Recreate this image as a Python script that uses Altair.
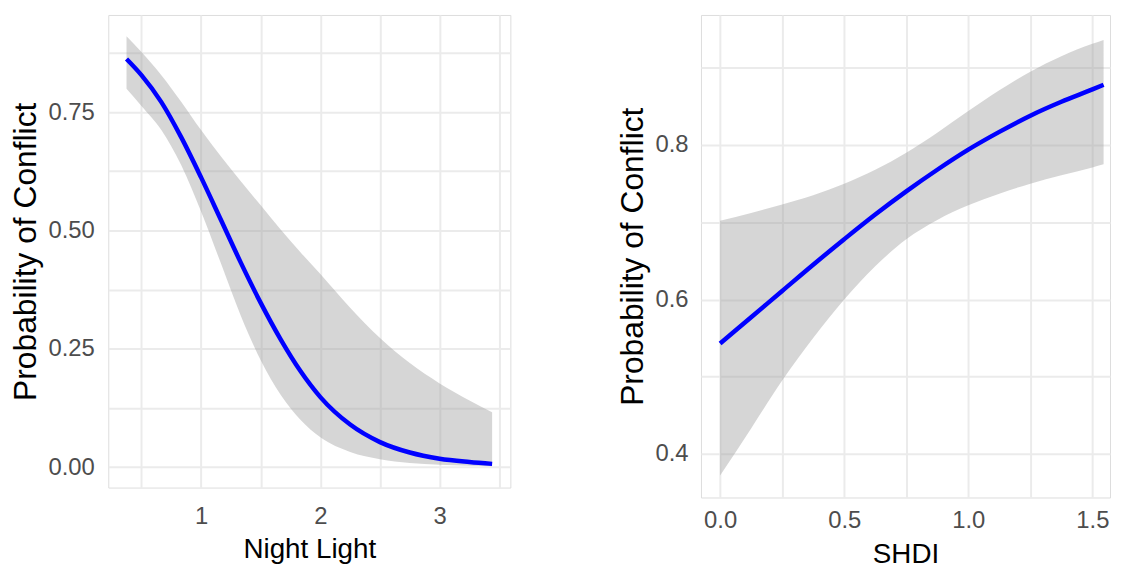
import altair as alt
import pandas as pd

# ---- Left panel: Night Light ----
night_light_x = [0.375, 0.5, 0.667, 0.833, 1.0, 1.167, 1.333, 1.5, 1.667, 1.833,
                 2.0, 2.25, 2.5, 2.75, 3.0, 3.25, 3.44]
night_light_fit = [0.862, 0.828, 0.771, 0.697, 0.612, 0.522, 0.432, 0.347, 0.270, 0.203,
                   0.148, 0.090, 0.053, 0.031, 0.018, 0.011, 0.007]
night_light_upper = [0.910, 0.877, 0.828, 0.772, 0.712, 0.656, 0.604, 0.553, 0.502, 0.454,
                     0.408, 0.337, 0.273, 0.220, 0.177, 0.141, 0.116]
night_light_lower = [0.799, 0.763, 0.712, 0.638, 0.540, 0.430, 0.320, 0.226, 0.153, 0.100,
                     0.063, 0.032, 0.017, 0.009, 0.005, 0.003, 0.002]

# ---- Right panel: SHDI ----
shdi_x = [0.0, 0.125, 0.25, 0.375, 0.5, 0.625, 0.75, 0.875, 1.0, 1.125, 1.25, 1.375, 1.5, 1.545]
shdi_fit = [0.543, 0.577, 0.611, 0.645, 0.678, 0.710, 0.740, 0.768, 0.794, 0.817, 0.838, 0.856,
            0.872, 0.878]
shdi_upper = [0.702, 0.712, 0.723, 0.735, 0.750, 0.768, 0.790, 0.816, 0.844, 0.871, 0.895, 0.915,
              0.931, 0.936]
shdi_lower = [0.372, 0.433, 0.495, 0.550, 0.600, 0.643, 0.678, 0.703, 0.722, 0.737, 0.750, 0.761,
              0.771, 0.775]

# grid / tick values (major + minor)
nl_x_grid = [0.5, 1, 1.5, 2, 2.5, 3, 3.5]
nl_y_grid = [0, 0.125, 0.25, 0.375, 0.5, 0.625, 0.75, 0.875]
shdi_x_grid = [0, 0.25, 0.5, 0.75, 1.0, 1.25, 1.5]
shdi_y_grid = [0.4, 0.5, 0.6, 0.7, 0.8, 0.9]

Y_TITLE = "Probability of Conflict"

nl_df = pd.DataFrame({"x": night_light_x, "fit": night_light_fit,
                      "lower": night_light_lower, "upper": night_light_upper})
shdi_df = pd.DataFrame({"x": shdi_x, "fit": shdi_fit,
                        "lower": shdi_lower, "upper": shdi_upper})

FONT = "Liberation Sans"


def axis(values, expr, title_size, label_pad, title_pad):
    return alt.Axis(values=values, labelExpr=expr, labelOverlap=False, labelFlush=False,
                    ticks=False, tickSize=0, domain=False, grid=True,
                    gridColor="#EBEBEB", gridWidth=2,
                    labelFont=FONT, labelFontSize=24, labelColor="#4D4D4D",
                    labelPadding=label_pad,
                    titleFont=FONT, titleFontSize=title_size, titleColor="#000000",
                    titleFontWeight="normal", titlePadding=title_pad)


def panel(df, xtitle, xdom, ydom, xvals, yvals, xexpr, yexpr, width, height,
          xlp, xtp, ylp, ytp):
    xenc = alt.X("x:Q", title=xtitle,
                 scale=alt.Scale(domain=xdom, nice=False, zero=False),
                 axis=axis(xvals, xexpr, 28, xlp, xtp))
    yscale = alt.Scale(domain=ydom, nice=False, zero=False)
    yaxis = axis(yvals, yexpr, 32, ylp, ytp)
    band = alt.Chart(df).mark_area(color="#999999", opacity=0.4, interpolate="monotone").encode(
        x=xenc,
        y=alt.Y("lower:Q", title=Y_TITLE, scale=yscale, axis=yaxis),
        y2="upper:Q",
    )
    line = alt.Chart(df).mark_line(color="#0000FF", strokeWidth=4.5, interpolate="monotone").encode(
        x=xenc,
        y=alt.Y("fit:Q", title=Y_TITLE, scale=yscale, axis=yaxis),
    )
    return alt.layer(band, line).properties(width=width, height=height)


left = panel(
    nl_df, "Night Light", [0.222, 3.593], [-0.043, 0.955], nl_x_grid, nl_y_grid,
    "abs(datum.value - round(datum.value)) < 0.001 ? format(datum.value, 'd') : ''",
    "abs(datum.value*4 - round(datum.value*4)) < 0.001 ? format(datum.value, '.2f') : ''",
    405, 476, 17, 7, 14, 6,
)
right = panel(
    shdi_df, "SHDI", [-0.077, 1.571], [0.3436, 0.9684], shdi_x_grid, shdi_y_grid,
    "abs(datum.value*2 - round(datum.value*2)) < 0.001 ? format(datum.value, '.1f') : ''",
    "abs(datum.value*5 - round(datum.value*5)) < 0.001 ? format(datum.value, '.1f') : ''",
    412, 486, 11, 8, 13, 6,
)

chart = alt.hconcat(left, right, spacing=105).properties(
    padding={"left": 0, "top": 4, "right": 0, "bottom": 0}
).configure_view(strokeWidth=0).configure(background="white")

chart.save("out.html", embed_options={"renderer": "svg", "actions": False})
